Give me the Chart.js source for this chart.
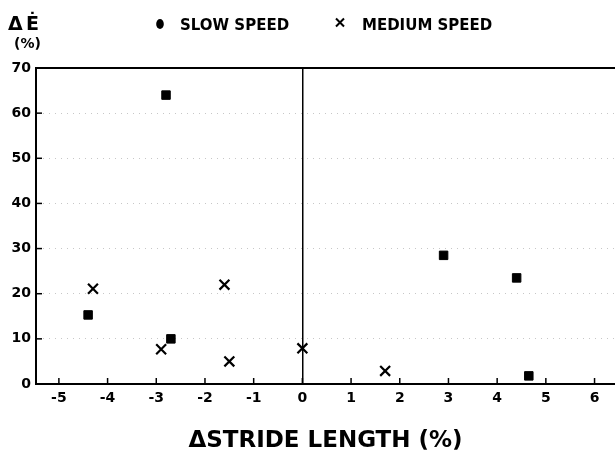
<!DOCTYPE html>
<html>
<head>
<meta charset="utf-8">
<script src="https://cdn.jsdelivr.net/npm/chart.js@4.4.1/dist/chart.umd.min.js"></script>
<style>
  body { margin: 0; background: #fff; }
</style>
</head>
<body>
<canvas id="stride-chart" width="615" height="451"></canvas>
<script>
// values
const slowX = [-2.8, -4.4, -2.7, 2.9, 4.4, 4.65];
const slowY = [64, 15.3, 10, 28.5, 23.5, 1.8];
const mediumX = [-4.3, -1.6, -2.9, -1.5, 0.0, 1.7];
const mediumY = [21.1, 22, 7.7, 5, 7.9, 2.9];
const xTicks = [-5, -4, -3, -2, -1, 0, 1, 2, 3, 4, 5, 6];
const seriesNames = ["SLOW SPEED", "MEDIUM SPEED"];

const FONT = "'DejaVu Sans', sans-serif";

const toPoints = (xs, ys) => xs.map((x, i) => ({ x: x, y: ys[i] }));

// frame bits the library doesn't do: top border, inward ticks, header + legend
const framePlugin = {
  id: "frame",
  afterDraw(chart) {
    const { ctx, chartArea, scales } = chart;
    ctx.save();
    ctx.strokeStyle = "#000";

    ctx.lineWidth = 2;
    ctx.beginPath();
    ctx.moveTo(chartArea.left, chartArea.top);
    ctx.lineTo(chartArea.right, chartArea.top);
    ctx.stroke();

    ctx.lineWidth = 1.5;
    scales.x.ticks.forEach((t) => {
      const px = scales.x.getPixelForValue(t.value);
      ctx.beginPath();
      ctx.moveTo(px, chartArea.bottom);
      ctx.lineTo(px, chartArea.bottom - 6);
      ctx.stroke();
    });
    scales.y.ticks.forEach((t) => {
      const py = scales.y.getPixelForValue(t.value);
      ctx.beginPath();
      ctx.moveTo(chartArea.left, py);
      ctx.lineTo(chartArea.left + 6, py);
      ctx.stroke();
    });

    // y axis label
    ctx.fillStyle = "#000";
    ctx.textBaseline = "alphabetic";
    ctx.textAlign = "left";
    ctx.font = "bold 19px " + FONT;
    ctx.fillText("Δ", 8, 30);
    ctx.fillText("Ė", 26, 30);
    ctx.font = "bold 14px " + FONT;
    ctx.fillText("(%)", 14, 48);

    // legend
    ctx.beginPath();
    ctx.ellipse(160, 24, 3.8, 5, 0, 0, Math.PI * 2);
    ctx.fill();
    ctx.lineWidth = 2;
    ctx.beginPath();
    ctx.moveTo(336, 18.5);
    ctx.lineTo(344, 26.5);
    ctx.moveTo(344, 18.5);
    ctx.lineTo(336, 26.5);
    ctx.stroke();
    ctx.font = "bold 15px " + FONT;
    ctx.fillText(seriesNames[0], 180, 30);
    ctx.fillText(seriesNames[1], 362, 30);
    ctx.restore();
  },
};

new Chart(document.getElementById("stride-chart"), {
  type: "scatter",
  data: {
    datasets: [
      {
        label: seriesNames[0],
        data: toPoints(slowX, slowY),
        pointStyle: "rect",
        pointRadius: 6,
        backgroundColor: "#000",
        borderColor: "#000",
        borderWidth: 1,
      },
      {
        label: seriesNames[1],
        data: toPoints(mediumX, mediumY),
        pointStyle: "crossRot",
        pointRadius: 7,
        borderColor: "#000",
        borderWidth: 2.2,
      },
    ],
  },
  options: {
    responsive: false,
    animation: false,
    layout: {
      autoPadding: false,
      padding: { top: 68, left: 0, right: 0, bottom: 0 },
    },
    scales: {
      x: {
        type: "linear",
        min: -5.47,
        max: 6.42,
        afterBuildTicks: (scale) => {
          scale.ticks = xTicks.map((v) => ({ value: v }));
        },
        afterFit: (scale) => {
          scale.height = 67;
        },
        grid: {
          drawTicks: false,
          color: (c) => (c.tick && c.tick.value === 0 ? "#000" : "rgba(0,0,0,0)"),
          lineWidth: 1.5,
        },
        border: { color: "#000", width: 2 },
        ticks: {
          padding: 6,
          color: "#000",
          font: { family: FONT, size: 14, weight: "bold" },
        },
        title: {
          display: true,
          text: "ΔSTRIDE LENGTH (%)",
          color: "#000",
          font: { family: FONT, size: 23, weight: "bold", lineHeight: 0.9 },
          padding: { top: 0, bottom: 0 },
        },
      },
      y: {
        min: 0,
        max: 70,
        afterFit: (scale) => {
          scale.width = 36;
        },
        grid: {
          drawTicks: false,
          color: "rgba(0,0,0,0.22)",
          lineWidth: 1,
        },
        border: { color: "#000", width: 2, dash: [1, 5] },
        ticks: {
          stepSize: 10,
          padding: 5,
          color: "#000",
          font: { family: FONT, size: 14, weight: "bold" },
        },
      },
    },
    plugins: {
      legend: { display: false },
      tooltip: { enabled: false },
    },
  },
  plugins: [framePlugin],
});
</script>
</body>
</html>
